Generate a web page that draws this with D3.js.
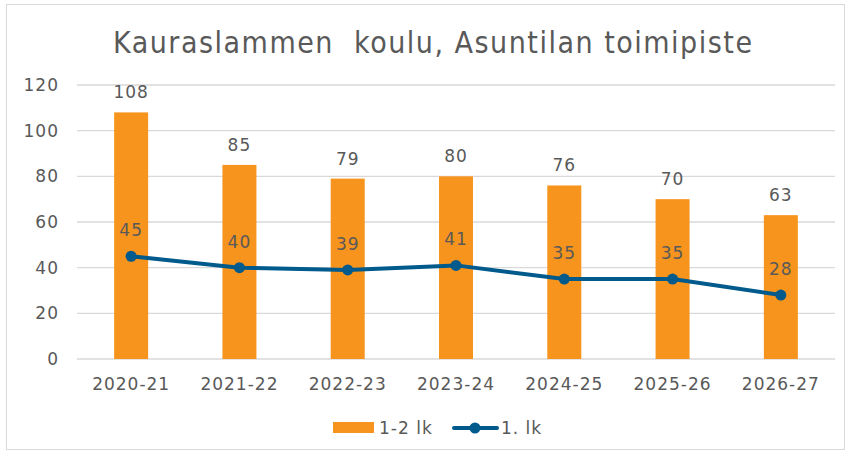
<!DOCTYPE html>
<html>
<head>
<meta charset="utf-8">
<script src="https://cdn.jsdelivr.net/npm/d3@7"></script>
<style>
  body { margin: 0; background: #fff; }
  text { font-family: "DejaVu Sans", Verdana, sans-serif; fill: #595959; }
</style>
</head>
<body>
<div id="chart"></div>
<script>
const categories = ["2020-21", "2021-22", "2022-23", "2023-24", "2024-25", "2025-26", "2026-27"];
const barValues = [108, 85, 79, 80, 76, 70, 63];
const lineValues = [45, 40, 39, 41, 35, 35, 28];
const yTicks = [0, 20, 40, 60, 80, 100, 120];
const barName = "1-2 lk";
const lineName = "1. lk";
const title = "Kauraslammen  koulu, Asuntilan toimipiste";

const width = 846, height = 452;
const orange = "#F7941D", blue = "#005A8C";

const svg = d3.select("#chart").append("svg")
    .attr("width", width).attr("height", height);

// outer frame
svg.append("rect")
    .attr("x", 6.5).attr("y", 4.5)
    .attr("width", 838).attr("height", 445)
    .attr("fill", "#fff").attr("stroke", "#d9d9d9");

svg.append("text")
    .attr("x", 113).attr("y", 53)
    .attr("textLength", 639)
    .attr("lengthAdjust", "spacing")
    .style("font-family", "'DejaVu Sans Condensed', 'DejaVu Sans', sans-serif")
    .style("font-size", "30px")
    .style("white-space", "pre")
    .text(title);

const x = d3.scaleBand().domain(categories).range([77, 835]);
const y = d3.scaleLinear().domain([0, 120]).range([359, 85]);

// gridlines
svg.append("g").selectAll("line")
    .data(yTicks)
    .join("line")
    .attr("x1", 77).attr("x2", 835)
    .attr("y1", d => y(d)).attr("y2", d => y(d))
    .attr("stroke", "#d9d9d9").attr("stroke-width", 1.3);

const labelStyle = g => g.style("font-size", "17px").style("letter-spacing", "1px");

// y axis labels
const yAxis = d3.axisLeft(y).tickValues(yTicks).tickSize(0).tickPadding(0);
svg.append("g")
    .attr("transform", "translate(59,0)")
    .call(yAxis)
    .call(g => g.select(".domain").remove())
    .call(g => g.selectAll("text").call(labelStyle).attr("fill", "#595959"));

// x axis labels
const xAxis = d3.axisBottom(x).tickSize(0).tickPadding(0);
svg.append("g")
    .attr("transform", "translate(0,378)")
    .call(xAxis)
    .call(g => g.select(".domain").remove())
    .call(g => g.selectAll("text").call(labelStyle).attr("fill", "#595959"));

const barW = 34;
const cx = d => x(d) + x.bandwidth() / 2;

svg.append("g").selectAll("rect")
    .data(categories)
    .join("rect")
    .attr("x", d => cx(d) - barW / 2)
    .attr("y", (d, i) => y(barValues[i]))
    .attr("width", barW)
    .attr("height", (d, i) => y(0) - y(barValues[i]))
    .attr("fill", orange);

svg.append("g").selectAll("text")
    .data(categories)
    .join("text")
    .attr("x", d => cx(d))
    .attr("y", (d, i) => y(barValues[i]) - 14)
    .attr("text-anchor", "middle")
    .call(labelStyle)
    .attr("fill", "#404040")
    .text((d, i) => barValues[i]);

const line = d3.line()
    .x(d => cx(d))
    .y((d, i) => y(lineValues[i]));

svg.append("path")
    .datum(categories)
    .attr("d", line)
    .attr("fill", "none")
    .attr("stroke", blue)
    .attr("stroke-width", 4)
    .attr("stroke-linecap", "round");

svg.append("g").selectAll("circle")
    .data(categories)
    .join("circle")
    .attr("cx", d => cx(d))
    .attr("cy", (d, i) => y(lineValues[i]))
    .attr("r", 5.5)
    .attr("fill", blue);

svg.append("g").selectAll("text")
    .data(categories)
    .join("text")
    .attr("x", d => cx(d))
    .attr("y", (d, i) => y(lineValues[i]) - 20)
    .attr("text-anchor", "middle")
    .call(labelStyle)
    .attr("fill", "#404040")
    .text((d, i) => lineValues[i]);

// legend
const lg = svg.append("g");
lg.append("rect").attr("x", 333).attr("y", 422).attr("width", 41).attr("height", 11).attr("fill", orange);
lg.append("text").attr("x", 379).attr("y", 434).call(labelStyle).text(barName);
lg.append("line").attr("x1", 454).attr("x2", 497).attr("y1", 428).attr("y2", 428)
    .attr("stroke", blue).attr("stroke-width", 4).attr("stroke-linecap", "round");
lg.append("circle").attr("cx", 475).attr("cy", 428).attr("r", 5.5).attr("fill", blue);
lg.append("text").attr("x", 501).attr("y", 434).call(labelStyle).text(lineName);
</script>
</body>
</html>
